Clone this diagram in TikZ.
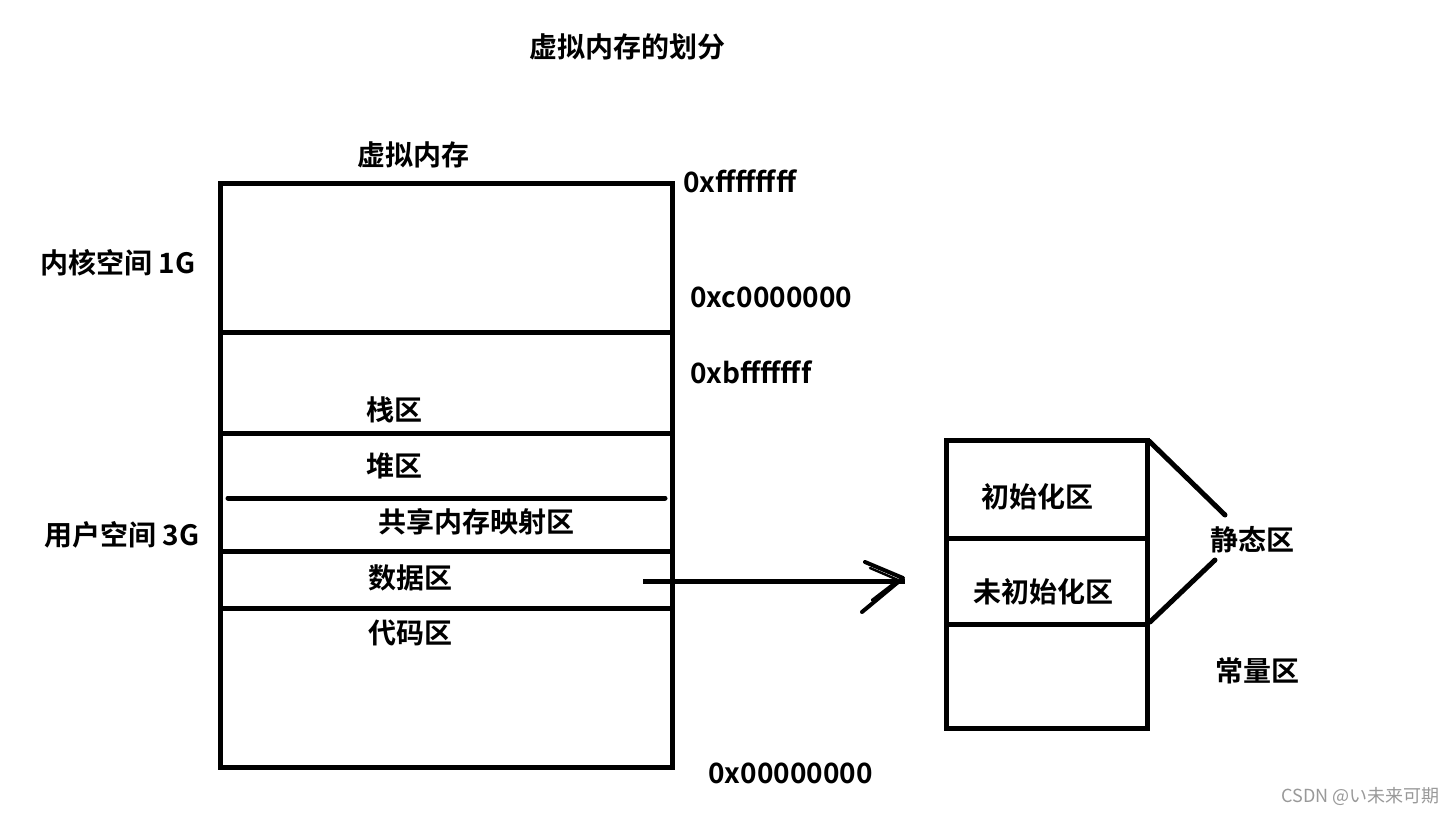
\documentclass[tikz,border=0pt]{standalone}
\usepackage{fontspec}
\setmainfont{Noto Sans CJK SC}
\newfontfamily\cjkb{Noto Sans CJK SC Bold}
\begin{document}
\begin{tikzpicture}[x=0.5pt,y=-0.5pt,
  lbl/.style={font=\cjkb\fontsize{14}{16}\selectfont,inner sep=0pt},
  addr/.style={lbl,anchor=west},
  thick line/.style={line width=2.5pt}]
\useasboundingbox[fill=white] (0,0) rectangle (1453,814);
\node[lbl] (title) at (627,47) {虚拟内存的划分};
\node[lbl] (vm) at (413,155) {虚拟内存};
\draw[thick line] (220,183) rectangle (672,767);
\draw[thick line] (220,332) -- (672,332);
\draw[thick line] (220,433) -- (672,433);
\draw[thick line,line cap=round] (228,498) -- (665,498);
\draw[thick line] (220,551) -- (672,551);
\draw[thick line] (220,608) -- (672,608);
\node[addr] (a1) at (683,181) {0xffffffff};
\node[addr] (a2) at (690,297) {0xc0000000};
\node[addr] (a3) at (690,372) {0xbfffffff};
\node[addr] (a4) at (708,773) {0x00000000};
\node[lbl] (k) at (118,263) {内核空间 1G};
\node[lbl] (u) at (122,535) {用户空间 3G};
\node[lbl] (s) at (394,410) {栈区};
\node[lbl] (h) at (394,466) {堆区};
\node[lbl] (m) at (476,522) {共享内存映射区};
\node[lbl] (d) at (410,578) {数据区};
\node[lbl] (c) at (410,633) {代码区};
\draw[thick line] (946,440) rectangle (1147,728);
\draw[thick line] (946,538) -- (1147,538);
\draw[thick line] (946,624) -- (1147,624);
\node[lbl] (i) at (1037,497) {初始化区};
\node[lbl] (ni) at (1043,592) {未初始化区};
\node[lbl] (st) at (1252,540) {静态区};
\node[lbl] (cs) at (1257,671) {常量区};
\draw[thick line,line cap=round] (1149,441) -- (1225,515);
\draw[thick line,line cap=round] (1215,560) -- (1150,622);
\coordinate (p0) at (643,581);
\coordinate (p1) at (905,581);
\draw[thick line] (p0) -- (p1);
\draw[line width=2pt,line cap=round,line join=round] (865,562) -- (903,578) -- (862,612);
\draw[line width=1.2pt,line cap=round] (870,568) -- (898,580) -- (872,600);
\node[font=\fontsize{9}{11}\selectfont,text=gray!80,anchor=east,inner sep=0pt] (w) at (1440,796) {CSDN @い未来可期};
\end{tikzpicture}
\end{document}
